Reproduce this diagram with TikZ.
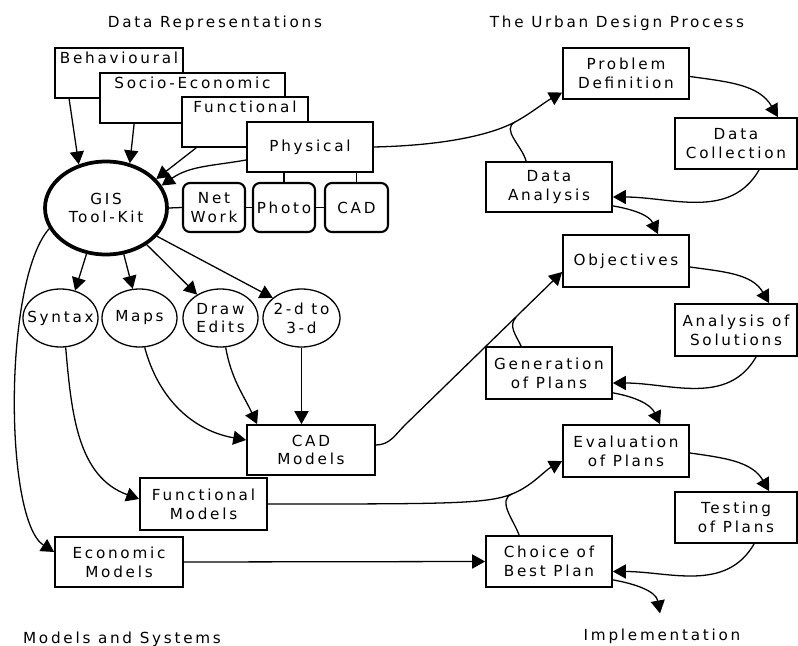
\documentclass[tikz,border=0pt]{standalone}
\usepackage{fontspec}
\setmainfont{DejaVu Sans}[LetterSpace=18]
\usetikzlibrary{arrows.meta,calc,shapes.geometric}
\newcommand\myfnt{\fontsize{13}{16}\selectfont}
\begin{document}
\begin{tikzpicture}[x=0.03cm,y=-0.03cm,
  box/.style={rectangle,draw,fill=white,line width=1.5pt,inner sep=0pt,align=center,font=\myfnt},
  rbox/.style={rectangle,rounded corners=6pt,draw,fill=white,line width=1.8pt,inner sep=0pt,align=center,font=\myfnt,minimum width=1.86cm,minimum height=1.47cm},
  oval/.style={ellipse,draw,line width=1.1pt,inner xsep=-10pt,inner ysep=0pt,align=center,font=\myfnt,minimum width=2.25cm,minimum height=1.74cm},
  arr/.style={line width=1.1pt,-{Triangle[length=11pt,width=12pt]}},
  ln/.style={line width=1.1pt},
  ttl/.style={font=\myfnt,inner sep=0pt},
  toplbl/.style={anchor=north,inner sep=3.5pt,font=\myfnt}
]
\fill[white] (0,0) rectangle (798,646);
\path[use as bounding box] (0,0) rectangle (798,646);

% titles
\node[ttl] (t1) at (215,23) {Data Representations};
\node[ttl] (t2) at (617,23) {The Urban Design Process};
\node[ttl] (t3) at (122,639) {Models and Systems};
\node[ttl] (impl) at (662,636) {Implementation};

% data representations
\node[box,minimum width=3.84cm,minimum height=1.5cm,label={[toplbl]north:Behavioural}] (beh) at (119,73) {};
\node[box,minimum width=5.55cm,minimum height=1.5cm,label={[toplbl]north:Socio-Economic}] (soc) at (192.5,98) {};
\node[box,minimum width=3.78cm,minimum height=1.5cm,label={[toplbl]north:Functional}] (fun) at (245,122) {};
\node[box,minimum width=3.78cm,minimum height=1.5cm] (phys) at (310,147) {Physical};

\node[ellipse,draw,line width=3.2pt,minimum width=3.66cm,minimum height=2.79cm,align=center,font=\myfnt,inner sep=0pt] (gis) at (106,208) {GIS\\Tool-Kit};
\node[rbox] (net) at (214,207.5) {Net\\Work};
\node[rbox] (photo) at (284,207.5) {Photo};
\node[rbox,minimum width=1.89cm] (cadr) at (356.5,207.5) {CAD};

% models
\node[oval] (syntax) at (60.5,318) {Syntax};
\node[oval] (maps) at (139.5,318) {Maps};
\node[oval] (edits) at (220.5,318) {Draw\\Edits};
\node[oval,minimum width=2.31cm] (d23) at (301.5,318) {2-d to\\3-d};

\node[box,minimum width=3.84cm,minimum height=1.5cm] (cadm) at (311,450) {CAD\\Models};
\node[box,minimum width=3.81cm,minimum height=1.56cm] (fm) at (203.5,504) {Functional\\Models};
\node[box,minimum width=3.84cm,minimum height=1.5cm] (eco) at (119,562) {Economic\\Models};

% process
\node[box,minimum width=3.78cm,minimum height=1.53cm] (pd) at (626,73.5) {Problem\\Definition};
\node[box,minimum width=3.66cm,minimum height=1.53cm] (dc) at (736,143.5) {Data\\Collection};
\node[box,minimum width=3.78cm,minimum height=1.5cm] (da) at (549,187) {Data\\Analysis};
\node[box,minimum width=3.78cm,minimum height=1.56cm] (obj) at (626,261) {Objectives};
\node[box,minimum width=3.66cm,minimum height=1.56cm] (aos) at (736,330) {Analysis of\\Solutions};
\node[box,minimum width=3.78cm,minimum height=1.56cm] (gen) at (549,373) {Generation\\of Plans};
\node[box,minimum width=3.78cm,minimum height=1.56cm] (eval) at (626,451) {Evaluation\\of Plans};
\node[box,minimum width=3.66cm,minimum height=1.53cm] (test) at (736,517.5) {Testing\\of Plans};
\node[box,minimum width=3.78cm,minimum height=1.53cm] (choice) at (549,561.5) {Choice of\\Best Plan};

\coordinate (j1) at (515,122);
\coordinate (c1) at (405,425);
\coordinate (j2) at (516,317.5);
\coordinate (j3) at (512,494);

% into GIS
\draw[arr] ($(beh.south west)+(15,0)$) -- (gis.122);
\draw[arr] ($(soc.south west)+(35,0)$) -- (gis.62);
\draw[arr] ($(fun.south west)+(15,0)$) -- (gis.30);
\draw[arr] ($(phys.west)+(0,13)$) to[out=190,in=35] (gis.22);

\draw[ln] (gis.east) -- (net.west);
\draw[ln] (net.east) -- (photo.west);
\draw[ln] (photo.east) -- (cadr.west);
\draw[ln] (photo.north) -- (photo.north |- phys.south);
\draw[ln] (cadr.north) -- (cadr.north |- phys.south);

% GIS to tools
\draw[arr] (gis.247) -- (syntax.62);
\draw[arr] (gis.291) -- (maps.103);
\draw[arr] (gis.318) -- (edits.135);
\draw[arr] (gis.331) -- (d23.145);

\draw[arr] (syntax.-80) to[out=-85,in=160] ($(fm.west)+(0,-5)$);
\draw[arr] (maps.-80) to[out=-75,in=170] ($(cadm.west)+(0,-10)$);
\draw[arr] (edits.-80) to[out=-80,in=115] ($(cadm.north west)+(11,0)$);
\draw[arr] (d23.south) -- (d23.south |- cadm.north);
\draw[arr] (gis.200) .. controls +(-46,52) and +(-50,-32) .. ($(eco.west)+(0,-10)$);

% models to process
\draw[arr] ($(cadm.east)+(0,-5)$) to[out=0,in=225] (c1) -- ($(obj.west)+(0,11)$);
\draw[ln] ($(gen.north west)+(36,0)$) to[out=115,in=224] (j2);

\draw[arr] (phys.east) .. controls +(87,-2) and +(-15,8) .. (j1) .. controls +(15,-8) and +(-18,10) .. ($(pd.west)+(0,19)$);
\draw[ln] ($(da.north west)+(41,0)$) to[out=105,in=208] (j1);

\draw[arr] (fm.east) .. controls +(180,0) and +(-25,10) .. (j3) .. controls +(20,-8) and +(-18,10) .. ($(eval.west)+(0,10)$);
\draw[ln] ($(choice.north west)+(34,0)$) to[out=110,in=202] (j3);

\draw[arr] (eco.east) -- (choice.west);

% process loops
\draw[arr] ($(pd.east)+(0,3)$) to[out=-8,in=120] ($(dc.north east)+(-20,0)$);
\draw[arr] ($(dc.south west)+(85,0)$) to[out=240,in=0] ($(da.east)+(0,10)$);
\draw[arr] ($(da.south east)+(0,-7)$) to[out=-10,in=115] ($(obj.north)+(32,0)$);
\draw[arr] ($(obj.east)+(0,6)$) to[out=-8,in=120] ($(aos.north west)+(95,0)$);
\draw[arr] ($(aos.south west)+(82,0)$) to[out=240,in=0] ($(gen.east)+(0,10)$);
\draw[arr] ($(gen.south east)+(0,-7)$) to[out=-10,in=115] ($(eval.north)+(34,0)$);
\draw[arr] ($(eval.east)+(0,2)$) to[out=-8,in=120] ($(test.north west)+(95,0)$);
\draw[arr] ($(test.south west)+(80,0)$) to[out=240,in=0] ($(choice.east)+(0,10)$);
\draw[arr] ($(choice.south east)+(0,-8)$) to[out=-10,in=100] ($(impl.north)+(-2,-15)$);
\end{tikzpicture}
\end{document}
